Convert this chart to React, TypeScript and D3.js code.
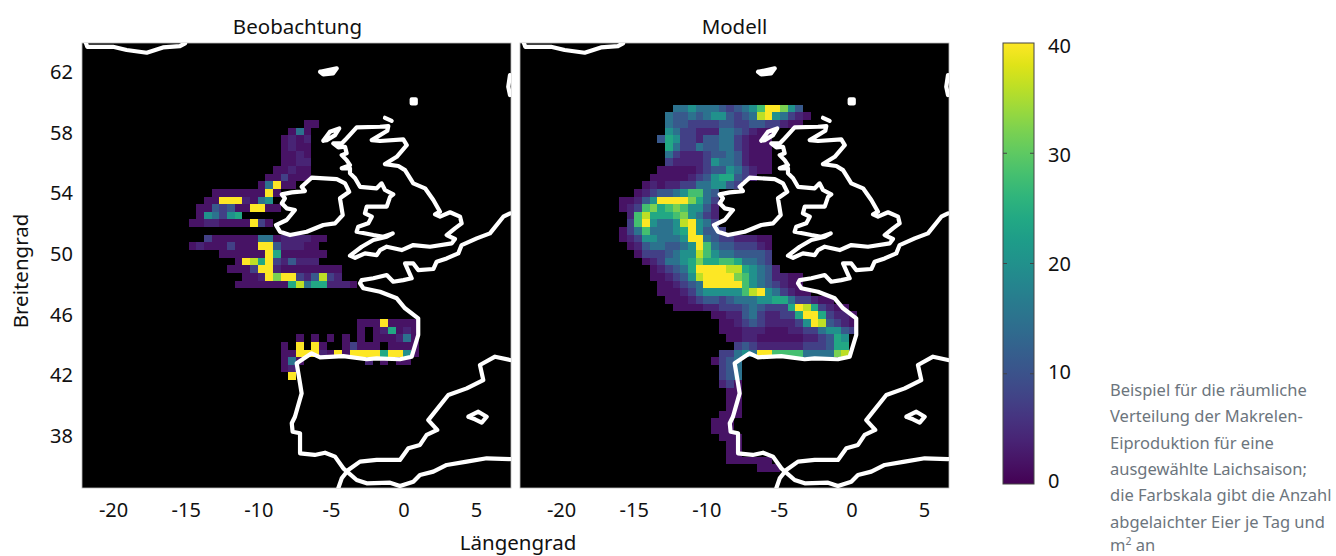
import React from "react";
import * as d3 from "d3";

// ---- data: spawning grid, one string per row, one letter per cell ('.' = no data) ----
const LEVELS = "abcdefghijk";
const LEVEL_VALUES = [2, 4, 7.5, 11, 15, 20, 24, 28, 32, 36, 40];

const OBS_ROWS = [
  "", "",
  "................aa",
  "..............aea",
  ".............abab",
  ".............abaa",
  ".............aaba",
  ".............aabb",
  "............aabaa",
  "...........aacaaa",
  "..........aekaa",
  "....aaaaaaaka",
  "...aakkkbaef",
  "..aadcdaakkaa",
  "..afecfg",
  ".aabbaaaakca",
  "",
  "...caaaaaaeeabbbbaa",
  ".abaaacaaakkdbbbaa",
  ".....aaaaaakgaaaaaa",
  ".......akjgkcbdbbb",
  "......aaackkbaaaaaaaa",
  "........aabkikkcbdjcb",
  ".......aaaaaaagjeggbbba",
  "", "", "", "",
  ".......................aaakaaaa",
  ".......................a.abgaba",
  "...............a.a.a.a.a.aaabea",
  ".............a.k.ka..acaaa.aaaa",
  ".............aakkkbakakkkkgkkfa",
  ".............aea........b.a.aa",
  ".............ab",
  "..............k",
];

const MODEL_ROWS = [
  ".......eefeeedcdefhkkifd",
  "......eddedeffdcdejkfecba",
  "......eddccccddccddccbaa",
  "......feccbbbeedcbaa",
  ".....dgfccbddeecbaaa",
  "......gecceddeecbaaa",
  "......ecbbbcddedbaaa",
  "......cbbbbcfeedbaaa",
  ".....aaaaabcddfecbaa",
  "....aaaaabcdfggdcb",
  "...ababbcceeffdc",
  "..abcddefhhed",
  "aabdfkkkkigec",
  "abchighihffdb",
  ".bhjggghifecb",
  ".chkfeefjkfec",
  "aceheeefgkfddc",
  "abcffeeefkkedccbbbaa",
  ".abdeeddefkheddcccba",
  "..acccdeffjhfeeddddc",
  "...abceefgigghhgeedc",
  "....abcdegkkkkjjgfedb",
  "....aabcdfjkkkkihfedbbaa",
  ".....aabcdekkkkkhfedcbaa",
  ".....aaabcefffffhjkfecbaa",
  "......aaabcddcdeeeffggeccbaa",
  ".......aaaabbcccdedcccgkjgcbaa",
  "............aabbdecbbccgkkgcbba",
  ".............aabcdcbbbbcfkjdcba",
  ".............aaabbbaaabbcceffdc",
  "..............aabbaaaaaabbcdgf",
  "...............cdcbbbbbbcccdgg",
  ".............ccefekkhhhheeeeij",
  "............acde",
  ".............cde",
  ".............cde",
  ".............bca",
  "..............aa",
  "..............aa",
  "..............aa",
  ".............aaa",
  "............aaa",
  "............aaa",
  ".............aaa",
  "..............aa",
  "..............aa",
  "..............aaaaaa",
  "..................aaa",
];

// ---- data: coastlines in degrees [lon, lat] ----
type P = [number, number];
const ICELAND: P[] = [[-22.52,63.89],[-22.43,63.66],[-20.66,63.66],[-19.72,63.45],[-18.34,63.27],[-17.22,63.62],[-16.05,63.71],[-15.7,63.89]];
const FAROE: P[] = [[-6.4,62.01],[-5.25,62.24],[-5.51,61.91],[-6.18,61.84],[-6.4,62.01]];
const SHETLAND: P[] = [[-0.09,60.2],[0.19,60.2],[0.19,59.93],[-0.09,59.93],[-0.09,60.2]];
const NORWAY: P[] = [[6.68,61.8],[6.56,61.03],[6.68,60.48]];
const ORKNEY: P[] = [[-1.93,58.98],[-1.47,58.78]];
const LEWIS: P[] = [[-6.18,57.47],[-5.72,58.06],[-5.08,58.28],[-5.37,57.84],[-5.94,57.51],[-6.18,57.47]];
const BRITAIN: P[] = [[-4.68,57.51],[-3.88,58.35],[-2.27,58.39],[-1.7,58.44],[-1.77,58.13],[-2.84,57.51],[-2.27,57.45],[-0.67,57.56],[-0.43,57.18],[-1.12,56.41],[-1.93,55.93],[-1.01,55.8],[-0.55,55.53],[0.02,54.66],[0.83,54.33],[1.4,53.56],[1.86,52.79],[1.52,52.61],[1.86,52.46],[2.55,52.75],[3.24,52.46],[3.35,52.02],[2.89,51.69],[2.32,51.25],[2.89,50.99],[2.67,50.7],[1.17,50.48],[0.02,50.59],[-0.78,50.26],[-1.81,50.48],[-2.27,50.26],[-2.5,49.93],[-3.31,50.04],[-3.99,49.75],[-4.34,49.89],[-3.53,50.48],[-2.73,50.92],[-1.81,51.14],[-1.4,51.36],[-2.05,51.14],[-2.73,51.25],[-3.88,51.47],[-3.77,51.8],[-3.08,52.02],[-2.84,52.46],[-3.31,52.68],[-3.19,53.12],[-1.81,53.12],[-1.58,53.77],[-1.36,53.93],[-1.93,54.22],[-2.16,54.66],[-2.5,54.33],[-3.65,54.43],[-3.99,54.99],[-4.34,55.32],[-4.34,55.65],[-4.91,55.65],[-4.34,55.86],[-4.57,56.19],[-4.91,56.52],[-4.57,56.64],[-4.68,57.07],[-5.14,57.03],[-5.49,57.29],[-4.91,57.29],[-4.68,57.51]];
const IRELAND: P[] = [[-7.67,54.43],[-6.98,55.03],[-5.25,54.94],[-4.68,54.66],[-4.39,54.1],[-5.03,53.67],[-4.84,52.57],[-5.37,52.02],[-6.18,51.91],[-7.32,51.47],[-8.47,51.25],[-9.16,51.47],[-9.44,51.91],[-8.7,52.24],[-8.13,52.9],[-8.7,53.01],[-9.04,53.34],[-8.82,53.67],[-9.04,53.93],[-8.35,54.06],[-7.44,54.15],[-7.67,54.43]];
const ATLANTIC_EUROPE: P[] = [[6.68,52.68],[6.22,52.46],[5.3,51.36],[4.39,51.03],[3.35,50.59],[3.12,50.04],[2.32,49.71],[1.63,49.49],[1.4,49.01],[0.36,48.94],[0.02,49.38],[-0.55,49.38],[-0.09,48.4],[-0.67,48.28],[-1.36,48.17],[-1.81,48.61],[-2.73,48.4],[-3.53,48.28],[-3.65,48.07],[-3.42,47.74],[-2.27,47.51],[-1.12,47.08],[-0.55,46.42],[0.36,45.76],[0.36,44.66],[-0.09,43.23],[-0.9,43.06],[-2.5,43.12],[-3.19,43.06],[-4.8,43.27],[-6.4,43.19],[-6.98,43.45],[-8.01,42.79],[-7.78,41.47],[-7.67,40.81],[-8.13,39.27],[-8.35,38.84],[-8.29,38.28],[-7.78,38.18],[-7.78,36.86],[-6.77,36.75],[-6.06,36.9],[-5.37,36.64],[-4.8,35.87],[-3.88,35.1],[-3.19,34.88],[-1.58,34.92],[-0.9,34.7],[0.02,34.99],[0.48,35.43],[1.4,35.65],[2.32,36.09],[3.7,36.31],[5.08,36.53],[6.68,36.48]];
const MEDITERRANEAN: P[] = [[-5.14,34.57],[-4.91,35.21],[-4.46,35.76],[-3.65,36.31],[-2.5,36.42],[-0.9,36.42],[-0.32,37.19],[0.48,37.41],[0.94,38.07],[1.67,38.4],[1.05,39.05],[2.43,40.7],[3.7,41.14],[4.84,41.69],[4.61,42.68],[5.65,43.23],[6.68,43.01]];
const MALLORCA: P[] = [[3.81,39.27],[4.5,39.6],[5.08,39.27],[4.73,38.88],[4.27,39.1],[3.81,39.27]];
const COASTS = [ICELAND, FAROE, SHETLAND, NORWAY, ORKNEY, LEWIS, BRITAIN, IRELAND, ATLANTIC_EUROPE, MEDITERRANEAN, MALLORCA];

// ---- data: axes and text ----
const LON_TICKS = [-20, -15, -10, -5, 0, 5];
const LAT_TICKS = [62, 58, 54, 50, 46, 42, 38];
const BAR_TICKS = [0, 10, 20, 30, 40];
const TITLES = ["Beobachtung", "Modell"];
const CAPTION = [
  "Beispiel für die räumliche",
  "Verteilung der Makrelen-",
  "Eiproduktion für eine",
  "ausgewählte Laichsaison;",
  "die Farbskala gibt die Anzahl",
  "abgelaichter Eier je Tag und",
];

// ---- layout ----
const FONT = "'Noto Sans', sans-serif";
const INK = "#111";
const TOP = 43, BOTTOM = 488, PW = 429;
const panels = [
  { left: 82, rows: OBS_ROWS, title: TITLES[0], zero: 322, titleX: 215.5 },
  { left: 520, rows: MODEL_ROWS, title: TITLES[1], zero: 332, titleX: 214.5 },
];
const mapX = d3.scaleLinear().domain([0, 5]).range([331, 331 + 72.6]);
const yLat = d3.scaleLinear().domain([38, 62]).range([436, 72]);
const colBand = d3.scaleBand<number>().domain(d3.range(32)).range([99, 99 + 7.67 * 32]);
const rowBand = d3.scaleBand<number>().domain(d3.range(48)).range([104.7, 104.7 + 7.65 * 48]);
const color = d3.scaleSequential(d3.interpolateViridis).domain([0, 40]);
const barY = d3.scaleLinear().domain([0, 40]).range([484, 43]);
const barLabelY = d3.scaleLinear().domain([0, 40]).range([488, 53]);
const line = d3.line<P>().x((d) => mapX(d[0])).y((d) => yLat(d[1]));
const gradStops = d3.range(0, 1.0001, 0.05);

function Panel({ p, i }: { p: (typeof panels)[number]; i: number }) {
  const tickX = d3.scaleLinear().domain([0, 5]).range([p.zero, p.zero + 72.6]);
  return (
    <g>
      <defs>
        <clipPath id={`clip${i}`}>
          <rect x={0} y={TOP} width={PW} height={BOTTOM - TOP} />
        </clipPath>
      </defs>
      <g transform={`translate(${p.left},0)`}>
        <rect x={0} y={TOP} width={PW} height={BOTTOM - TOP} fill="#000" stroke="#bbb" strokeWidth={0.8} />
        <g shapeRendering="crispEdges">
          {p.rows.flatMap((row, r) =>
            row.split("").map((ch, c) =>
              ch === "." ? null : (
                <rect
                  key={`${r}-${c}`}
                  x={colBand(c)}
                  y={rowBand(r)}
                  width={colBand.bandwidth()}
                  height={rowBand.bandwidth()}
                  fill={color(LEVEL_VALUES[LEVELS.indexOf(ch)])}
                />
              )
            )
          )}
        </g>
        <g clipPath={`url(#clip${i})`}>
          {COASTS.map((c, k) => (
            <path key={k} d={line(c) || ""} fill="none" stroke="#fff" strokeWidth={4.2} strokeLinejoin="round" strokeLinecap="round" />
          ))}
        </g>
        <text x={p.titleX} y={34} textAnchor="middle" fontSize={20.5} fill={INK}>{p.title}</text>
        {LON_TICKS.map((t) => (
          <text key={t} x={tickX(t)} y={516.5} textAnchor="middle" fontSize={20} fill={INK}>{t}</text>
        ))}
      </g>
    </g>
  );
}

export default function App() {
  return (
    <svg width={1336} height={556} style={{ position: "absolute", left: 0, top: 0, display: "block", background: "#fff" }} fontFamily={FONT}>
      <defs>
        <linearGradient id="viridisBar" x1="0" y1="1" x2="0" y2="0">
          {gradStops.map((s) => (
            <stop key={s} offset={s} stopColor={d3.interpolateViridis(s)} />
          ))}
        </linearGradient>
      </defs>
      {panels.map((p, i) => <Panel key={i} p={p} i={i} />)}
      {LAT_TICKS.map((t) => (
        <text key={t} x={73} y={yLat(t) + 7} textAnchor="end" fontSize={20} fill={INK}>{t}</text>
      ))}
      <text transform="translate(27.5,271) rotate(-90)" textAnchor="middle" fontSize={20.5} fill={INK}>Breitengrad</text>
      <text x={518} y={550} textAnchor="middle" fontSize={20.5} fill={INK}>Längengrad</text>

      <rect x={1003} y={43} width={31} height={441} fill="url(#viridisBar)" stroke="#444" strokeWidth={1} />
      {BAR_TICKS.map((t) => (
        <g key={t}>
          {t > 0 && t < 40 && (
            <>
              <line x1={1003} x2={1007} y1={barY(t)} y2={barY(t)} stroke="#444" />
              <line x1={1030} x2={1034} y1={barY(t)} y2={barY(t)} stroke="#444" />
            </>
          )}
          <text x={1048} y={barLabelY(t)} fontSize={20} fill={INK}>{t}</text>
        </g>
      ))}
      <g fontSize={16.5} fill="#6c757d">
        {CAPTION.map((s, i) => (
          <text key={i} x={1110} y={396 + i * 26.3}>{s}</text>
        ))}
        <text x={1110} y={551}>m<tspan fontSize={10.5} dy={-6}>2</tspan><tspan dy={6}> an</tspan></text>
      </g>
    </svg>
  );
}
